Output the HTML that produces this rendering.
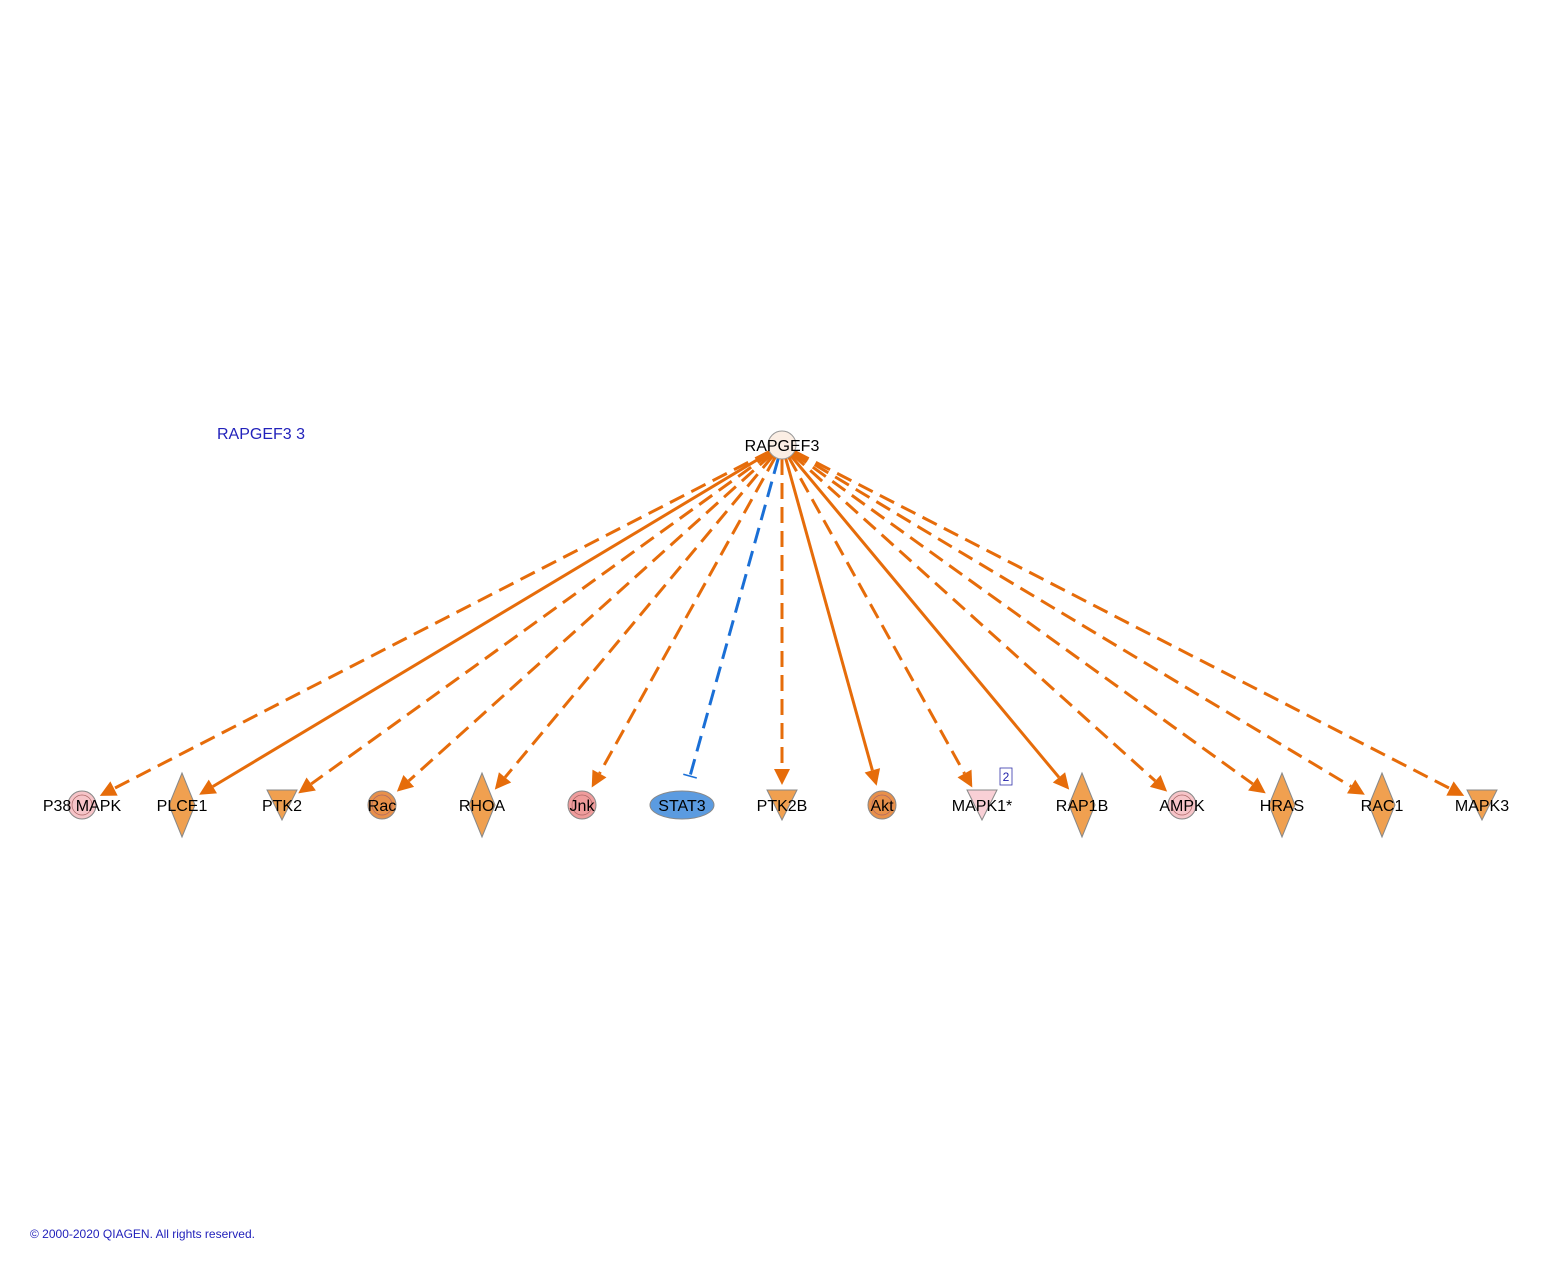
<!DOCTYPE html>
<html><head><meta charset="utf-8"><style>
body{margin:0;background:#fff;width:1552px;height:1276px;overflow:hidden}
svg text{font-family:"Liberation Sans",Arial,sans-serif}
</style></head><body>
<svg id="s" width="1552" height="1276" xmlns="http://www.w3.org/2000/svg">
<text x="217" y="439" font-size="16" fill="#2222bb">RAPGEF3 3</text>
<text x="30" y="1238" font-size="12" fill="#2222bb">© 2000-2020 QIAGEN. All rights reserved.</text>
<g id="edges"></g>
<g id="nodes"></g>
</svg>
<script>
const NS="http://www.w3.org/2000/svg";
const E=document.getElementById('edges'),N=document.getElementById('nodes');
function el(p,t,a){const e=document.createElementNS(NS,t);for(const k in a)e.setAttribute(k,a[k]);p.appendChild(e);return e;}
const cx=782,cy=445,y=805;
const nodes=[
["P38 MAPK","circ","#f6c4c8","d"],["PLCE1","dia","#f0a050","s"],["PTK2","tri","#f0a050","d"],
["Rac","circ","#e8904a","d"],["RHOA","dia","#f0a050","d"],["Jnk","circ","#ef9c9c","d"],
["STAT3","ell","#5b9be0","b"],["PTK2B","tri","#f0a050","d"],["Akt","circ","#e8904a","s"],
["MAPK1*","tri","#f9d0d6","d"],["RAP1B","dia","#f0a050","s"],["AMPK","circ","#f6c4c8","d"],
["HRAS","dia","#f0a050","d"],["RAC1","dia","#f0a050","d"],["MAPK3","tri","#f0a050","d"]];
nodes.forEach((n,i)=>{
 const x=82+i*100;
 const dx=x-cx,dy=y-cy,L=Math.hypot(dx,dy),ux=dx/L,uy=dy/L;
 const sx=cx+ux*14,sy=cy+uy*14;
 const stop=n[1]=="ell"?30:20;
 const tx=x-ux*stop,ty=y-uy*stop;
 if(n[3]=="b"){
  el(E,'line',{x1:sx,y1:sy,x2:tx,y2:ty,stroke:'#1a6fd6','stroke-width':3,'stroke-dasharray':'16,8'});
  el(E,'line',{x1:tx-uy*7,y1:ty+ux*7,x2:tx+uy*7,y2:ty-ux*7,stroke:'#1a6fd6','stroke-width':1.5});
 }else{
  const bx=tx-ux*16,by=ty-uy*16;
  const a={x1:sx,y1:sy,x2:bx,y2:by,stroke:'#e66c0a','stroke-width':3};
  if(n[3]=="d")a['stroke-dasharray']='16,8';
  el(E,'line',a);
  const px=-uy*8,py=ux*8;
  el(E,'polygon',{points:`${tx},${ty} ${bx+px},${by+py} ${bx-px},${by-py}`,fill:'#e66c0a'});
 }
 const st={stroke:'#888','stroke-width':1};
 if(n[1]=="circ"){el(N,'circle',{cx:x,cy:y,r:14,fill:n[2],...st});el(N,'circle',{cx:x,cy:y,r:10,fill:'none',stroke:'#a66','stroke-width':0.7});}
 else if(n[1]=="dia")el(N,'polygon',{points:`${x},${y-32} ${x+13},${y} ${x},${y+32} ${x-13},${y}`,fill:n[2],...st});
 else if(n[1]=="tri")el(N,'polygon',{points:`${x-15},${y-15} ${x+15},${y-15} ${x},${y+15}`,fill:n[2],...st});
 else el(N,'ellipse',{cx:x,cy:y,rx:32,ry:14,fill:n[2],...st});
 const t=el(N,'text',{x:x,y:y+6,'font-size':16,'text-anchor':'middle',fill:'#000'});t.textContent=n[0];
});
el(N,'circle',{cx:cx,cy:cy,r:14,fill:'#fbeee4',stroke:'#999','stroke-width':1});
const t=el(N,'text',{x:cx,y:cy+6,'font-size':16,'text-anchor':'middle'});t.textContent="RAPGEF3";
el(N,'rect',{x:1000,y:768,width:12,height:17,fill:'#fff',stroke:'#33a','stroke-width':0.8});
const t2=el(N,'text',{x:1006,y:781,'font-size':12,'text-anchor':'middle',fill:'#22a'});t2.textContent="2";
</script>
</body></html>
